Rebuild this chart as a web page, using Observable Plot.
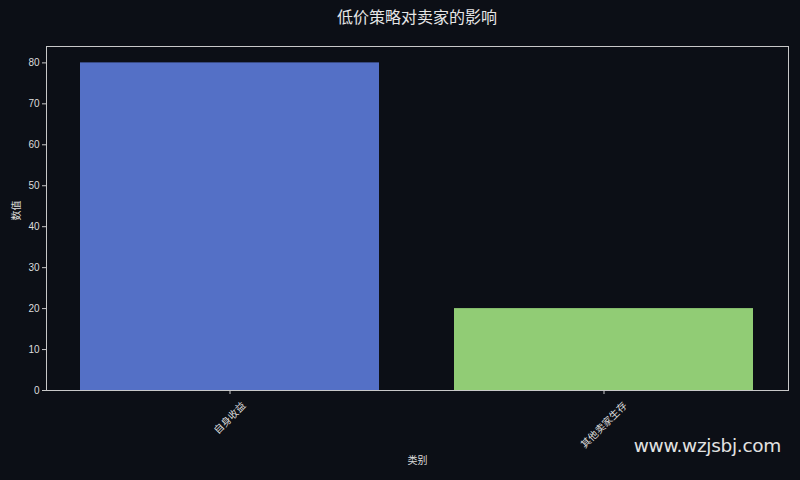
<!DOCTYPE html>
<html>
<head>
<meta charset="utf-8">
<script src="https://cdn.jsdelivr.net/npm/d3@7"></script>
<script src="https://cdn.jsdelivr.net/npm/@observablehq/plot@0.6"></script>
<style>
  html, body { margin: 0; padding: 0; background: #0c0f16; }
  #wrap { position: relative; width: 800px; height: 480px; background: #0c0f16; overflow: hidden;
          font-family: "Liberation Sans", "Noto Sans CJK SC", sans-serif; }
  #title { position: absolute; left: 46px; width: 742px; top: 8px; text-align: center;
           font-size: 16px; line-height: 20px; color: #e6e6e6; }
  #wm { position: absolute; right: 19px; top: 435px; font-size: 18.5px; color: #e2e2e2;
        font-family: "DejaVu Sans", sans-serif; letter-spacing: -0.3px; }
</style>
</head>
<body>
<div id="wrap">
  <div id="chart"></div>
  <div id="title">低价策略对卖家的影响</div>
  <div id="wm">www.wzjsbj.com</div>
</div>
<script>
const categories = ["自身收益", "其他卖家生存"];
const values = [80, 20];
const barColors = ["#5470c6", "#91cc75"];
const yTicks = [0, 10, 20, 30, 40, 50, 60, 70, 80];
const xLabel = "类别";
const yLabel = "数值";

const data = categories.map((c, i) => ({category: c, value: values[i]}));
const fs = 10;
const labelDy = (s) => 10 + 0.7071 * (s.length * fs + fs) / 2;

const chart = Plot.plot({
  width: 800, height: 480,
  marginTop: 46, marginRight: 12, marginBottom: 90, marginLeft: 46,
  style: {background: "transparent", color: "#dddddd", fontSize: "10px",
          fontFamily: "'Liberation Sans', 'Noto Sans CJK SC', sans-serif"},
  x: {domain: categories, paddingInner: 0.2, paddingOuter: 0.09, axis: null},
  y: {domain: [0, 84], axis: null},
  color: {domain: categories, range: barColors},
  marks: [
    Plot.barY(data, {x: "category", y: "value", fill: "category"}),
    Plot.frame({stroke: "#c8c8c8", strokeWidth: 1}),
    Plot.axisY({ticks: yTicks, tickSize: 4, tickPadding: 3, label: null, stroke: "#c8c8c8", fill: "#dddddd"}),
    Plot.axisX({tickSize: 4, tickFormat: () => "", label: null, stroke: "#c8c8c8"}),
    ...categories.map(c => Plot.text([c], {
      x: d => d, frameAnchor: "bottom", rotate: -45, textAnchor: "middle", lineAnchor: "middle",
      dy: labelDy(c), fill: "#dddddd", fontSize: fs
    })),
    Plot.text([yLabel], {frameAnchor: "left", rotate: -90, dx: -30, dy: 2, fill: "#dddddd", fontSize: 10}),
    Plot.text([xLabel], {frameAnchor: "bottom", dy: 73, fill: "#dddddd", fontSize: 10})
  ]
});
document.getElementById("chart").appendChild(chart);
</script>
</body>
</html>
